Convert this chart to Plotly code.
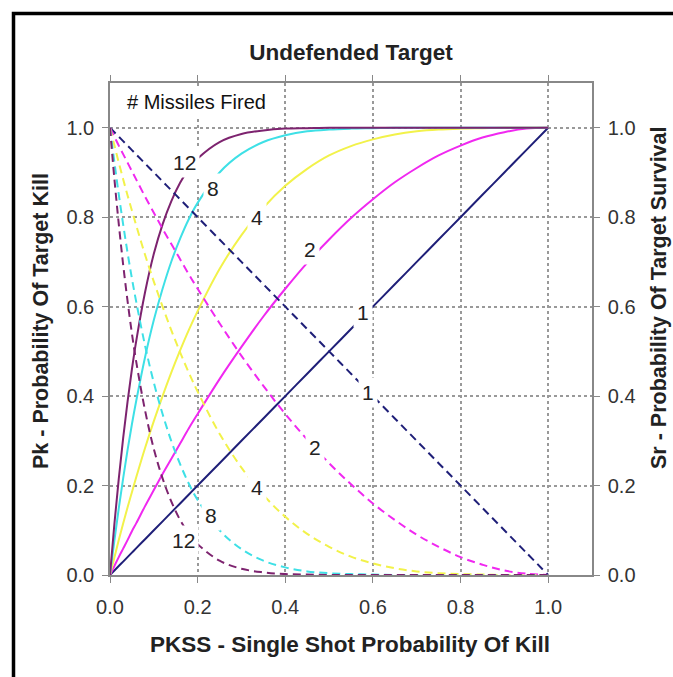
import plotly.graph_objects as go

# ---------------- data ----------------
pkss = [0, 0.01, 0.02, 0.03, 0.04, 0.05, 0.06, 0.08, 0.10, 0.12, 0.14, 0.16, 0.18,
        0.20, 0.25, 0.30, 0.35, 0.40, 0.45, 0.50, 0.55, 0.60, 0.65, 0.70, 0.75,
        0.80, 0.85, 0.90, 0.95, 1.00]

missiles = [1, 2, 4, 8, 12]

pk_1 = [0, 0.01, 0.02, 0.03, 0.04, 0.05, 0.06, 0.08, 0.10, 0.12, 0.14, 0.16, 0.18,
        0.20, 0.25, 0.30, 0.35, 0.40, 0.45, 0.50, 0.55, 0.60, 0.65, 0.70, 0.75,
        0.80, 0.85, 0.90, 0.95, 1.00]
pk_2 = [0, 0.020, 0.040, 0.059, 0.078, 0.098, 0.116, 0.154, 0.190, 0.226, 0.260, 0.294,
        0.328, 0.360, 0.438, 0.510, 0.578, 0.640, 0.698, 0.750, 0.798, 0.840, 0.878,
        0.910, 0.938, 0.960, 0.978, 0.990, 0.998, 1.000]
pk_4 = [0, 0.039, 0.078, 0.115, 0.151, 0.185, 0.219, 0.284, 0.344, 0.400, 0.453, 0.502,
        0.548, 0.590, 0.684, 0.760, 0.821, 0.870, 0.908, 0.938, 0.959, 0.974, 0.985,
        0.992, 0.996, 0.998, 0.999, 1.000, 1.000, 1.000]
pk_8 = [0, 0.077, 0.149, 0.216, 0.279, 0.337, 0.390, 0.487, 0.570, 0.640, 0.701, 0.752,
        0.796, 0.832, 0.900, 0.942, 0.968, 0.983, 0.992, 0.996, 0.998, 0.999, 1.000,
        1.000, 1.000, 1.000, 1.000, 1.000, 1.000, 1.000]
pk_12 = [0, 0.114, 0.215, 0.306, 0.387, 0.460, 0.524, 0.632, 0.718, 0.784, 0.836, 0.877,
         0.908, 0.931, 0.968, 0.986, 0.994, 0.998, 0.999, 1.000, 1.000, 1.000, 1.000,
         1.000, 1.000, 1.000, 1.000, 1.000, 1.000, 1.000]

sr_1 = [1.00, 0.99, 0.98, 0.97, 0.96, 0.95, 0.94, 0.92, 0.90, 0.88, 0.86, 0.84, 0.82,
        0.80, 0.75, 0.70, 0.65, 0.60, 0.55, 0.50, 0.45, 0.40, 0.35, 0.30, 0.25,
        0.20, 0.15, 0.10, 0.05, 0]
sr_2 = [1.000, 0.980, 0.960, 0.941, 0.922, 0.903, 0.884, 0.846, 0.810, 0.774, 0.740, 0.706,
        0.672, 0.640, 0.563, 0.490, 0.423, 0.360, 0.303, 0.250, 0.203, 0.160, 0.123,
        0.090, 0.063, 0.040, 0.023, 0.010, 0.003, 0]
sr_4 = [1.000, 0.961, 0.922, 0.885, 0.849, 0.815, 0.781, 0.716, 0.656, 0.600, 0.547, 0.498,
        0.452, 0.410, 0.316, 0.240, 0.179, 0.130, 0.092, 0.063, 0.041, 0.026, 0.015,
        0.008, 0.004, 0.002, 0.001, 0, 0, 0]
sr_8 = [1.000, 0.923, 0.851, 0.784, 0.721, 0.663, 0.610, 0.513, 0.430, 0.360, 0.299, 0.248,
        0.204, 0.168, 0.100, 0.058, 0.032, 0.017, 0.008, 0.004, 0.002, 0.001, 0,
        0, 0, 0, 0, 0, 0, 0]
sr_12 = [1.000, 0.886, 0.785, 0.694, 0.613, 0.540, 0.476, 0.368, 0.282, 0.216, 0.164, 0.123,
         0.092, 0.069, 0.032, 0.014, 0.006, 0.002, 0.001, 0, 0, 0, 0,
         0, 0, 0, 0, 0, 0, 0]

pk_series = [pk_1, pk_2, pk_4, pk_8, pk_12]
sr_series = [sr_1, sr_2, sr_4, sr_8, sr_12]

# curve label positions (x, y) for kill (solid) and survival (dashed) curves
pk_label_pos = [(0.578, 0.586), (0.457, 0.727), (0.336, 0.800), (0.235, 0.865), (0.171, 0.923)]
sr_label_pos = [(0.589, 0.409), (0.468, 0.286), (0.336, 0.195), (0.231, 0.134), (0.167, 0.078)]

tick_vals = [0.0, 0.2, 0.4, 0.6, 0.8, 1.0]
tick_text = ["0.0", "0.2", "0.4", "0.6", "0.8", "1.0"]

# ---------------- styles ----------------
colors = ["#1f1f78", "#f028f0", "#f2f24a", "#3ee0e6", "#7d236f"]
FONT = "Liberation Sans, Arial, sans-serif"

fig = go.Figure()

for n, ys, c in zip(missiles, sr_series, colors):
    fig.add_trace(go.Scatter(x=pkss, y=ys, mode="lines", yaxis="y2",
                             name=f"Sr {n}", line=dict(color=c, width=2, dash="8px,5px"),
                             line_shape="spline", showlegend=False))
for n, ys, c in zip(missiles, pk_series, colors):
    fig.add_trace(go.Scatter(x=pkss, y=ys, mode="lines",
                             name=f"Pk {n}", line=dict(color=c, width=2),
                             line_shape="spline", showlegend=False))

annotations = []
for n, (x, y) in zip(missiles, pk_label_pos):
    annotations.append(dict(x=x, y=y, xref="x", yref="y", text=str(n), showarrow=False,
                            font=dict(family=FONT, size=21, color="#222"),
                            bgcolor="white", borderpad=3))
for n, (x, y) in zip(missiles, sr_label_pos):
    annotations.append(dict(x=x, y=y, xref="x", yref="y", text=str(n), showarrow=False,
                            font=dict(family=FONT, size=21, color="#222"),
                            bgcolor="white", borderpad=3))

annotations.append(dict(x=0.028, y=1.057, xref="x", yref="y", text="# Missiles Fired",
                        showarrow=False, xanchor="left", yanchor="middle",
                        font=dict(family=FONT, size=20, color="#111"),
                        bgcolor="white", borderpad=4))

# plot area in pixels: x 110..592, y 83..575
def px_x(p):
    return (p - 110) / 482

def px_y(p):
    return (575 - p) / 492

annotations += [
    dict(x=px_x(350), y=px_y(644), xref="paper", yref="paper",
         text="<b>PKSS - Single Shot Probability Of Kill</b>", showarrow=False,
         xanchor="center", yanchor="middle",
         font=dict(family=FONT, size=22.5, color="#222")),
    dict(x=px_x(41), y=px_y(321), xref="paper", yref="paper",
         text="<b>Pk - Probability Of Target Kill</b>", showarrow=False,
         textangle=-90, xanchor="center", yanchor="middle",
         font=dict(family=FONT, size=21.5, color="#222")),
    dict(x=px_x(659), y=px_y(298), xref="paper", yref="paper",
         text="<b>Sr - Probability Of Target Survival</b>", showarrow=False,
         textangle=-90, xanchor="center", yanchor="middle",
         font=dict(family=FONT, size=21.5, color="#222")),
]

fig.update_layout(
    width=673, height=677,
    paper_bgcolor="white", plot_bgcolor="white",
    margin=dict(l=110, r=81, t=83, b=102, autoexpand=False),
    title=dict(text="<b>Undefended Target</b>", x=351 / 673, xanchor="center",
               y=1 - 52 / 677, yanchor="middle",
               font=dict(family=FONT, size=22.5, color="#222")),
    xaxis=dict(range=[0, 1.1], tickvals=tick_vals, ticktext=tick_text,
               showgrid=True, gridcolor="#999", griddash="dot", gridwidth=1.5,
               zeroline=False, showline=True, linecolor="#888", linewidth=1.5,
               mirror="ticks", ticks="outside", ticklen=6, tickcolor="#888",
               ticklabelstandoff=7,
               tickfont=dict(family=FONT, size=20, color="#333")),
    yaxis=dict(range=[0, 1.1], tickvals=tick_vals, ticktext=tick_text,
               showgrid=True, gridcolor="#999", griddash="dot", gridwidth=1.5,
               zeroline=False, showline=True, linecolor="#888", linewidth=1.5,
               ticks="outside", ticklen=6, tickcolor="#888",
               ticklabelstandoff=4,
               tickfont=dict(family=FONT, size=20, color="#333")),
    yaxis2=dict(range=[0, 1.1], tickvals=tick_vals, ticktext=tick_text,
                overlaying="y", side="right", showgrid=False,
                zeroline=False, showline=True, linecolor="#888", linewidth=1.5,
                ticks="outside", ticklen=6, tickcolor="#888",
                ticklabelstandoff=4,
                tickfont=dict(family=FONT, size=20, color="#333")),
    annotations=annotations,
    shapes=[dict(type="rect", xref="paper", yref="paper",
                 x0=px_x(13.5), x1=1.4,
                 y0=-0.4, y1=px_y(13.5),
                 line=dict(color="black", width=3.5), layer="above")],
)

fig.write_html("out.html", config={"displayModeBar": False},
               post_script="document.body.style.margin='0';")
